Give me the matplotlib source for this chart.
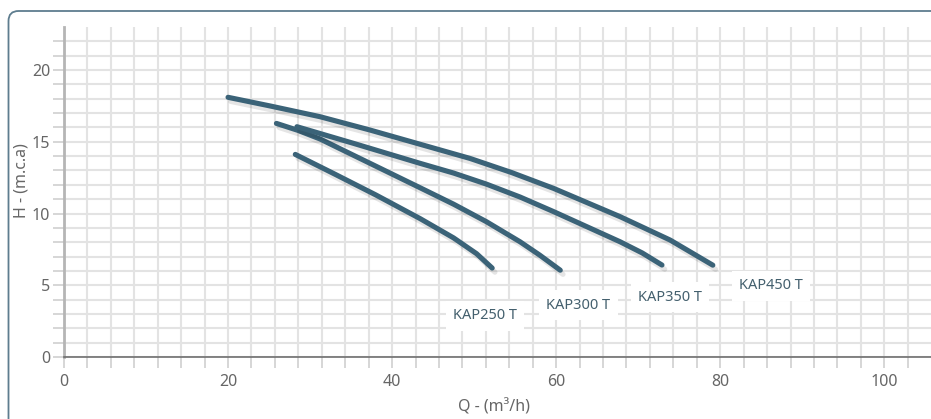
import matplotlib
matplotlib.use("Agg")
import numpy as np
import matplotlib.pyplot as plt
import matplotlib.patheffects as pe
from matplotlib.patches import FancyBboxPatch

plt.rcParams['font.family'] = ['Noto Sans', 'DejaVu Sans']

# pump curves: Q (m3/h), H (m.c.a)
models = ['KAP250 T', 'KAP300 T', 'KAP350 T', 'KAP450 T']
q_250 = [28.2, 33.0, 38.0, 43.4, 47.5, 50.3, 52.2]
h_250 = [14.12, 12.75, 11.3, 9.65, 8.3, 7.2, 6.2]
q_300 = [25.9, 28.5, 31.2, 37.3, 43.4, 47.5, 51.5, 55.6, 58.0, 60.5]
h_300 = [16.28, 15.8, 15.2, 13.5, 11.8, 10.65, 9.43, 8.03, 7.1, 6.05]
q_350 = [28.4, 35.3, 43.4, 47.5, 51.5, 55.6, 59.7, 67.8, 70.5, 72.9]
h_350 = [16.05, 14.89, 13.5, 12.82, 12.05, 11.15, 10.13, 8.03, 7.25, 6.41]
q_450 = [20.0, 25.1, 31.2, 37.3, 43.4, 49.5, 54.6, 59.7, 67.8, 73.9, 79.1]
h_450 = [18.1, 17.5, 16.75, 15.82, 14.83, 13.84, 12.85, 11.75, 9.78, 8.15, 6.4]
label_q = [51.3, 62.7, 73.9, 86.2]
label_h = [2.86, 3.62, 4.18, 4.95]

line_color = '#3b6378'
grid_color = '#e3e3e3'
text_color = '#666666'

fig = plt.figure(figsize=(9.31, 4.19), dpi=100)
ax = fig.add_axes([64 / 931, 62 / 419, 867 / 931, 330 / 419])
ax.set_xlim(0, 105.7)
ax.set_ylim(0, 23)

# grid
xminor = np.arange(0, 105.7, 20 / 7)
ax.set_xticks(xminor)
ax.set_xticklabels(['' if abs(v - round(v / 20) * 20) > 1e-6 else f'{round(v):d}' for v in xminor])
ax.set_yticks(np.arange(0, 23, 1))
ax.set_yticklabels([str(v) if v % 5 == 0 else '' for v in range(0, 23)])
ax.grid(True, color=grid_color, linewidth=1.5, zorder=0)
ax.set_axisbelow(True)
ax.tick_params(axis='both', length=8, width=1.2, color='#d0d0d0', labelcolor=text_color,
               labelsize=11.5)
ax.tick_params(axis='x', pad=4)
ax.tick_params(axis='y', pad=2)

for s in ['top', 'right']:
    ax.spines[s].set_visible(False)
ax.spines['left'].set_color('#b5b5b5')
ax.spines['left'].set_linewidth(2)
ax.spines['bottom'].set_color('#6e6e6e')
ax.spines['bottom'].set_linewidth(1.2)

shadow = [pe.SimpleLineShadow(offset=(2, -3), alpha=0.1, shadow_color='black'), pe.Normal()]
for q, h in [(q_250, h_250), (q_300, h_300), (q_350, h_350), (q_450, h_450)]:
    ax.plot(q, h, color=line_color, linewidth=3.7, solid_capstyle='round',
            solid_joinstyle='round', path_effects=shadow, zorder=3, clip_on=False)

for name, x, y in zip(models, label_q, label_h):
    ax.text(x, y, name, color='#44606e', fontsize=10.5, ha='center', va='center', zorder=4,
            bbox=dict(boxstyle='square,pad=0.5', facecolor='white', edgecolor='none'))

fig.text(21 / 931, 1 - 181 / 419, 'H - (m.c.a)', rotation=90, color=text_color,
         fontsize=11.5, ha='center', va='center')
fig.text(494 / 931, 1 - 407 / 419, 'Q - (m³/h)', color=text_color,
         fontsize=11.5, ha='center', va='center')

# card border, cut by the right and bottom edges
card = FancyBboxPatch((0.085, -0.5), 10, 4.19 - 0.11 + 0.5,
                      boxstyle='round,pad=0,rounding_size=0.1',
                      transform=fig.dpi_scale_trans, facecolor='none',
                      edgecolor='#5e7d8f', linewidth=1.3)
fig.patches.append(card)

fig.savefig('out.png', dpi=100)
